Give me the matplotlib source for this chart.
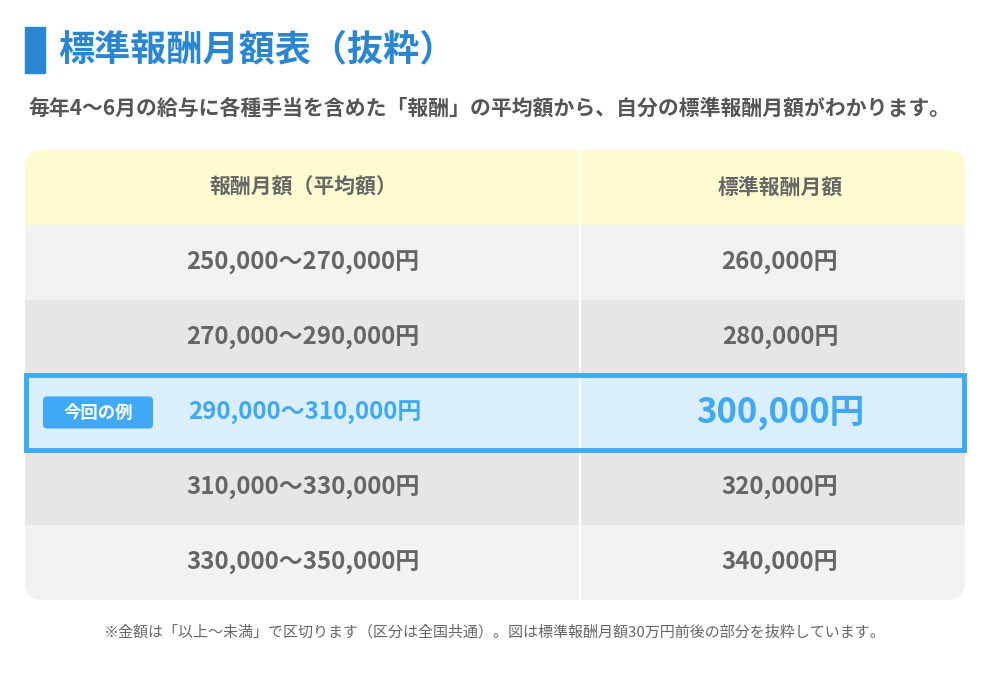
import matplotlib
matplotlib.use("Agg")
import matplotlib.pyplot as plt
from matplotlib.patches import Rectangle, FancyBboxPatch

plt.rcParams['font.family'] = ['Noto Sans CJK JP', 'DejaVu Sans']

title = "標準報酬月額表（抜粋）"
subtitle = "毎年4〜6月の給与に各種手当を含めた「報酬」の平均額から、自分の標準報酬月額がわかります。"
headers = ["報酬月額（平均額）", "標準報酬月額"]
ranges = ["250,000〜270,000円", "270,000〜290,000円", "290,000〜310,000円",
          "310,000〜330,000円", "330,000〜350,000円"]
standard = ["260,000円", "280,000円", "300,000円", "320,000円", "340,000円"]
highlight = 2
badge = "今回の例"
note = "※金額は「以上〜未満」で区切ります（区分は全国共通）。図は標準報酬月額30万円前後の部分を抜粋しています。"

blue = "#3fa9f5"
gray = "#666666"
row_colors = ["#f2f2f2", "#e6e6e6"]

fig = plt.figure(figsize=(10, 6.8), dpi=100)
ax = fig.add_axes([0, 0, 1, 1])
ax.set_xlim(0, 1000)
ax.set_ylim(680, 0)
ax.axis("off")

ax.add_patch(Rectangle((25, 27), 20, 46, color="#2a86d1"))
ax.text(58, 50, title, fontsize=26, fontweight="bold", color="#2a86d1", va="center")
ax.text(28, 108, subtitle, fontsize=15, fontweight="bold", color="#555555", va="center")

x0, x1, xm = 25, 965, 580
top, rh = 150, 75
clip = FancyBboxPatch((x0, top), x1 - x0, rh * (len(ranges) + 1),
                      boxstyle="round,pad=0,rounding_size=18", fc="none", ec="none")
ax.add_patch(clip)

def cell_bg(y, color):
    r = Rectangle((x0, y), x1 - x0, rh, color=color, zorder=1)
    ax.add_patch(r)
    r.set_clip_path(clip)

cell_bg(top, "#fffbd0")
for i, h in enumerate(headers):
    cx = [303, 780][i]
    ax.text(cx, top + rh / 2, h, fontsize=15, fontweight="bold", color=gray,
            ha="center", va="center", zorder=3)

for i, (rg, st) in enumerate(zip(ranges, standard)):
    y = top + rh * (i + 1)
    yc = y + rh / 2
    if i == highlight:
        cell_bg(y, "#dbeefc")
        ax.text(305, yc, rg, fontsize=17.3, fontweight="bold", color=blue,
                ha="center", va="center", zorder=3)
        ax.text(780, yc, st, fontsize=25, fontweight="bold", color=blue,
                ha="center", va="center", zorder=3)
        ax.add_patch(FancyBboxPatch((43, yc - 16), 110, 32,
                                    boxstyle="round,pad=0,rounding_size=4",
                                    fc=blue, ec="none", zorder=3))
        ax.text(98, yc, badge, fontsize=12.5, fontweight="bold", color="white",
                ha="center", va="center", zorder=4)
    else:
        cell_bg(y, row_colors[i % 2])
        ax.text(303, yc, rg, fontsize=17.3, fontweight="bold", color=gray,
                ha="center", va="center", zorder=3)
        ax.text(780, yc, st, fontsize=17.3, fontweight="bold", color=gray,
                ha="center", va="center", zorder=3)

ax.plot([xm, xm], [top, top + rh * (len(ranges) + 1)], color="white", lw=1.5, zorder=2)
hy = top + rh * (highlight + 1)
ax.add_patch(Rectangle((x0 + 1, hy), x1 - x0 - 2, rh, fc="none", ec=blue, lw=3.5, zorder=5))

ax.text(495, 632, note, fontsize=10.8, color=gray, ha="center", va="center")

fig.savefig("out.png", dpi=100)
